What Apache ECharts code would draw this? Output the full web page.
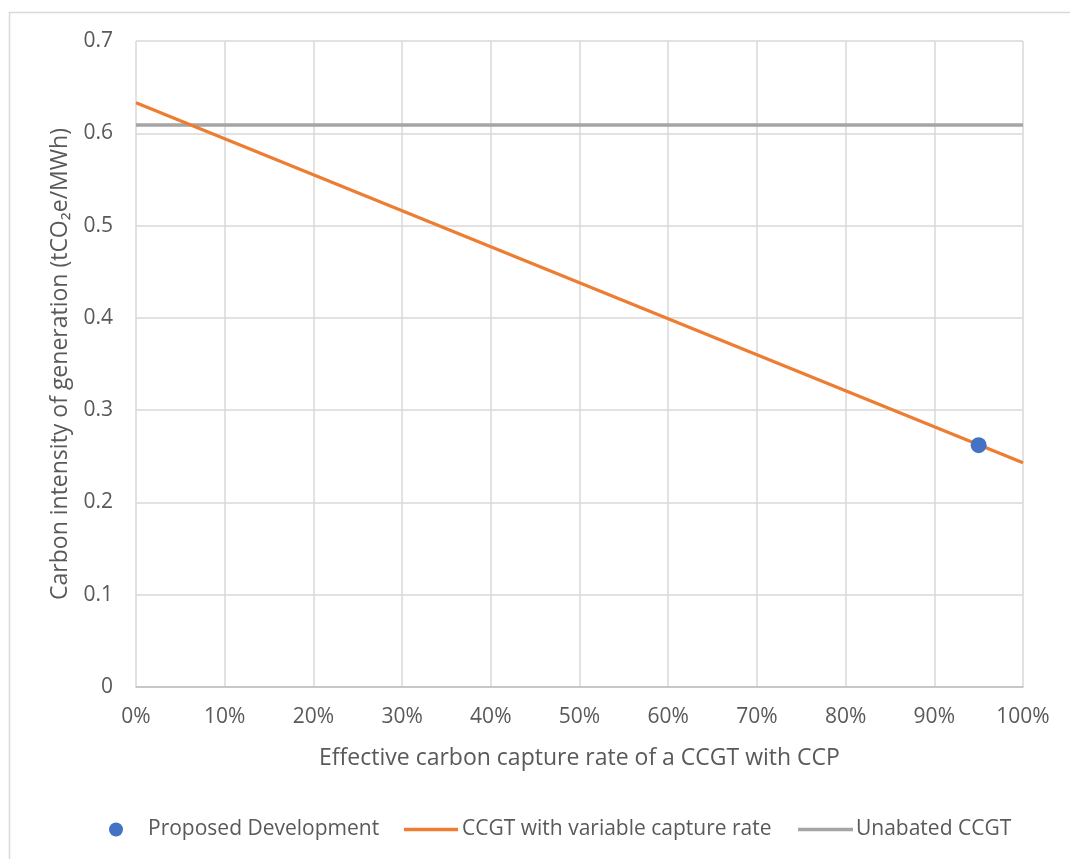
<!DOCTYPE html>
<html>
<head>
<meta charset="utf-8">
<script src="https://cdn.jsdelivr.net/npm/echarts@6/dist/echarts.min.js"></script>
<style>html,body{margin:0;padding:0;background:#fff;}#c{width:1070px;height:859px;}</style>
</head>
<body>
<div id="c"></div>
<script>
const captureRates = [0, 0.1, 0.2, 0.3, 0.4, 0.5, 0.6, 0.7, 0.8, 0.9, 1.0];
const ccgtVariable = [0.633, 0.594, 0.555, 0.516, 0.477, 0.438, 0.399, 0.360, 0.321, 0.282, 0.243];
const unabatedX = [0, 1.0];
const unabatedY = [0.609, 0.609];
const proposedX = [0.95];
const proposedY = [0.262];
const seriesNames = ['Proposed Development', 'CCGT with variable capture rate', 'Unabated CCGT'];
const xTitle = 'Effective carbon capture rate of a CCGT with CCP';
const yTitle = 'Carbon intensity of generation (tCO\u2082e/MWh)';

const FONT = '"Open Sans", sans-serif';
const lineIcon = 'path://M0,0H54V3.5H0Z';
const legendText = {fontSize: 21, color: '#595959', fontFamily: FONT};
const chart = echarts.init(document.getElementById('c'), null, {renderer: 'canvas'});
chart.setOption({
  animation: false,
  backgroundColor: '#ffffff',
  textStyle: {fontFamily: FONT, color: '#595959'},
  graphic: [{
    type: 'rect', shape: {x: 9.5, y: 12.5, width: 1100, height: 900},
    style: {fill: 'none', stroke: '#D9D9D9', lineWidth: 1.5}, silent: true, z: -1
  }],
  grid: {left: 136, right: 47, top: 41, bottom: 172, containLabel: false},
  xAxis: {
    type: 'value', min: 0, max: 1, interval: 0.1,
    name: xTitle, nameLocation: 'middle', nameGap: 60,
    nameTextStyle: {fontSize: 23, color: '#595959', fontFamily: FONT},
    axisLine: {show: true, lineStyle: {color: '#BFBFBF', width: 1.5}},
    axisTick: {show: false},
    splitLine: {show: true, lineStyle: {color: '#D9D9D9', width: 1.5}},
    axisLabel: {fontSize: 21, color: '#595959', margin: 20, fontFamily: FONT,
      formatter: v => Math.round(v * 100) + '%'}
  },
  yAxis: {
    type: 'value', min: 0, max: 0.7, interval: 0.1,
    name: yTitle, nameLocation: 'middle', nameGap: 64, nameRotate: 90,
    nameTextStyle: {fontSize: 23, color: '#595959', fontFamily: FONT},
    axisLine: {show: false},
    axisTick: {show: false},
    splitLine: {show: true, lineStyle: {color: '#D9D9D9', width: 1.5}},
    axisLabel: {fontSize: 21, color: '#595959', margin: 23, fontFamily: FONT,
      formatter: v => (v === 0 ? '0' : v.toFixed(1))}
  },
  legend: [
    {
      top: 819, left: 109, padding: 0, itemWidth: 14, itemHeight: 14,
      textStyle: Object.assign({padding: [0, 0, 0, 20]}, legendText),
      data: [{name: seriesNames[0], icon: 'circle'}]
    },
    {
      top: 819, left: 404, padding: 0, itemWidth: 54, itemHeight: 14,
      textStyle: Object.assign({padding: [0, 0, 0, -1]}, legendText),
      data: [{name: seriesNames[1], icon: lineIcon}]
    },
    {
      top: 819, left: 798, padding: 0, itemWidth: 55, itemHeight: 14,
      textStyle: Object.assign({padding: [0, 0, 0, -2]}, legendText),
      data: [{name: seriesNames[2], icon: lineIcon}]
    }
  ],
  series: [
    {
      name: seriesNames[2], type: 'line', symbol: 'none', z: 2,
      data: unabatedX.map((x, i) => [x, unabatedY[i]]),
      lineStyle: {color: '#A5A5A5', width: 3.5}, itemStyle: {color: '#A5A5A5'}
    },
    {
      name: seriesNames[1], type: 'line', symbol: 'none', z: 3,
      data: captureRates.map((x, i) => [x, ccgtVariable[i]]),
      lineStyle: {color: '#ED7D31', width: 3.2}, itemStyle: {color: '#ED7D31'}
    },
    {
      name: seriesNames[0], type: 'scatter', symbol: 'circle', symbolSize: 16, z: 4,
      data: proposedX.map((x, i) => [x, proposedY[i]]),
      itemStyle: {color: '#4472C4', opacity: 1}
    }
  ]
});
</script>
</body>
</html>
